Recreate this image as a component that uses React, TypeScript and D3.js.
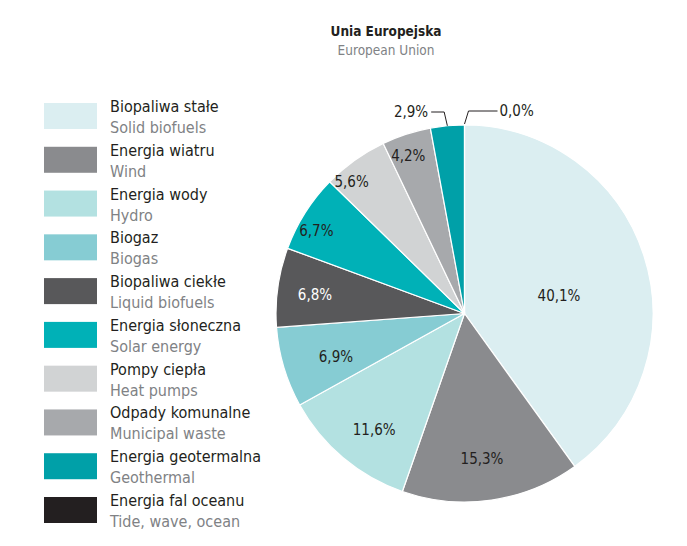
import React, { useEffect, useRef } from "react";
import * as d3 from "d3";

const labelsPl = [
  "Biopaliwa stałe",
  "Energia wiatru",
  "Energia wody",
  "Biogaz",
  "Biopaliwa ciekłe",
  "Energia słoneczna",
  "Pompy ciepła",
  "Odpady komunalne",
  "Energia geotermalna",
  "Energia fal oceanu",
];
const labelsEn = [
  "Solid biofuels",
  "Wind",
  "Hydro",
  "Biogas",
  "Liquid biofuels",
  "Solar energy",
  "Heat pumps",
  "Municipal waste",
  "Geothermal",
  "Tide, wave, ocean",
];
const shares = [40.1, 15.3, 11.6, 6.9, 6.8, 6.7, 5.6, 4.2, 2.9, 0.0];
const colors = [
  "#dbeef1",
  "#8a8b8e",
  "#b3e1e1",
  "#86ccd3",
  "#58585a",
  "#00b1b7",
  "#d1d3d4",
  "#a7a9ac",
  "#00a0a8",
  "#231f20",
];

// label placement: fraction of radius and angle nudge (deg) - tuned by eye
const labelR = [0.51, 0.775, 0.78, 0.72, 0.8, 0.9, 0.92, 0.89];
const labelNudge = [7.4, 1.4, -2.2, -2, -0.7, -3.1, -5, -1.6];

const W = 687;
const H = 546;
const FONT = "'Liberation Sans Narrow', 'DejaVu Sans Condensed', 'Roboto Condensed', sans-serif";
const DARK = "#231f20";
const GREY = "#808285";

const fmt = (v: number) => v.toFixed(1).replace(".", ",") + "%";

const App = () => {
  const ref = useRef<SVGSVGElement | null>(null);

  useEffect(() => {
    draw();
  });

  let draw = () => {
    let svg = d3.select(ref.current);
    svg.selectAll("*").remove();

    let cx = 464.5;
    let cy = 313.5;
    let radius = 188.5;

    // title
    svg
      .append("text")
      .attr("x", 386)
      .attr("y", 36)
      .attr("text-anchor", "middle")
      .attr("font-family", FONT)
      .attr("font-weight", "bold")
      .attr("font-size", 13.5)
      .attr("fill", DARK)
      .text("Unia Europejska");
    svg
      .append("text")
      .attr("x", 386)
      .attr("y", 55)
      .attr("text-anchor", "middle")
      .attr("font-family", FONT)
      .attr("font-size", 13.5)
      .attr("fill", GREY)
      .text("European Union");

    // legend
    let ly = d3.scaleLinear().domain([0, labelsPl.length - 1]).range([103, 497]);
    let legend = svg
      .append("g")
      .selectAll("g")
      .data(labelsPl)
      .join("g")
      .attr("transform", (d, i) => `translate(0, ${ly(i)})`);
    legend
      .append("rect")
      .attr("x", 44)
      .attr("y", 0)
      .attr("width", 53)
      .attr("height", 26)
      .attr("fill", (d, i) => colors[i]);
    legend
      .append("text")
      .attr("x", 110)
      .attr("y", 9)
      .attr("font-family", FONT)
      .attr("font-size", 16)
      .attr("fill", DARK)
      .text((d) => d);
    legend
      .append("text")
      .attr("x", 110)
      .attr("y", 30)
      .attr("font-family", FONT)
      .attr("font-size", 16)
      .attr("fill", GREY)
      .text((d, i) => labelsEn[i]);

    // pie
    let pie = d3
      .pie<number>()
      .sort(null)
      .value((d) => d);
    let arcs = pie(shares);
    let arc = d3.arc<d3.PieArcDatum<number>>().innerRadius(0).outerRadius(radius);

    let g = svg.append("g").attr("transform", `translate(${cx}, ${cy})`);
    g.selectAll("path")
      .data(arcs)
      .join("path")
      .attr("d", arc)
      .attr("fill", (d, i) => colors[i])
      .attr("stroke", "#ffffff")
      .attr("stroke-width", 1.2);

    // inner labels
    arcs.forEach((a, i) => {
      if (i >= labelR.length) return;
      let mid = (a.startAngle + a.endAngle) / 2 + (labelNudge[i] * Math.PI) / 180;
      let r = radius * labelR[i];
      g.append("text")
        .attr("x", Math.sin(mid) * r)
        .attr("y", -Math.cos(mid) * r)
        .attr("dy", "0.35em")
        .attr("text-anchor", "middle")
        .attr("font-family", FONT)
        .attr("font-size", 15)
        .attr("fill", i === 4 ? "#ffffff" : DARK)
        .text(fmt(shares[i]));
    });

    // outside labels with leader lines
    let geo = arcs[8];
    let gm = (geo.startAngle + geo.endAngle) / 2;
    let p0 = [Math.sin(gm) * radius, -Math.cos(gm) * radius];
    let p1 = [Math.sin(gm) * (radius + 13) - 2, -(radius + 13)];
    g.append("polyline")
      .attr("points", [p0, p1, [p1[0] - 13, p1[1]]].map((p) => p.join(",")).join(" "))
      .attr("fill", "none")
      .attr("stroke", DARK)
      .attr("stroke-width", 1);
    g.append("text")
      .attr("x", p1[0] - 16)
      .attr("y", p1[1])
      .attr("dy", "0.35em")
      .attr("text-anchor", "end")
      .attr("font-family", FONT)
      .attr("font-size", 15)
      .attr("fill", DARK)
      .text(fmt(shares[8]));

    let tide = arcs[9];
    let q0 = [Math.sin(tide.startAngle) * radius, -Math.cos(tide.startAngle) * radius - 1];
    let q1 = [q0[0] + 4, -(radius + 14)];
    g.append("polyline")
      .attr("points", [q0, q1, [q1[0] + 29, q1[1]]].map((p) => p.join(",")).join(" "))
      .attr("fill", "none")
      .attr("stroke", DARK)
      .attr("stroke-width", 1);
    g.append("text")
      .attr("x", q1[0] + 31)
      .attr("y", q1[1])
      .attr("dy", "0.35em")
      .attr("font-family", FONT)
      .attr("font-size", 15)
      .attr("fill", DARK)
      .text(fmt(shares[9]));
  };

  return (
    <svg
      ref={ref}
      width={W}
      height={H}
      style={{ position: "absolute", left: 0, top: 0, background: "#ffffff" }}
    ></svg>
  );
};

export default App;
